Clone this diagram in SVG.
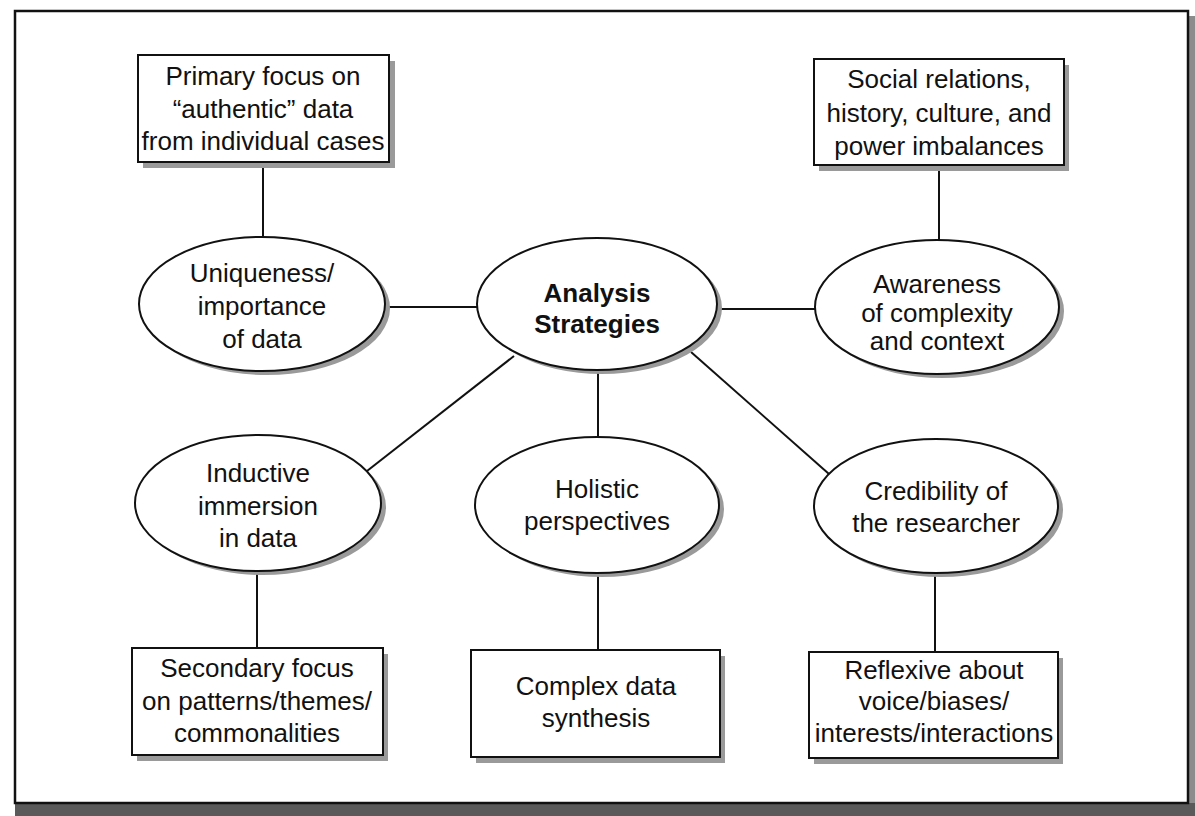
<svg xmlns="http://www.w3.org/2000/svg" width="1195" height="816" viewBox="0 0 1195 816">
  <style>
    .box { fill: #ffffff; stroke: #111111; stroke-width: 2; }
    .oval { fill: #ffffff; stroke: #111111; stroke-width: 2; }
    .shade { fill: #9a9a9a; stroke: none; }
    .link { stroke: #111111; stroke-width: 2; fill: none; }
    .label { font-family: "Liberation Sans", Arial, sans-serif; font-size: 26px; fill: #111111; text-anchor: middle; }
    .title { font-weight: bold; }
  </style>

  <rect x="0" y="0" width="1195" height="816" fill="#ffffff"/>

  <!-- page frame with drop shadow -->
  <g id="frame">
    <rect x="20" y="16" width="1175" height="800" fill="#8c8c8c"/>
    <rect x="15" y="803" width="1180" height="13" fill="#5a5a5a"/>
    <rect x="15" y="11" width="1173" height="792" fill="#ffffff" stroke="#111111" stroke-width="2.5"/>
  </g>

  <!-- connectors -->
  <g id="connectors">
    <line class="link" x1="263" y1="162" x2="263" y2="238"/>
    <line class="link" x1="939" y1="165" x2="939" y2="241"/>
    <line class="link" x1="384" y1="307" x2="478" y2="307"/>
    <line class="link" x1="716" y1="309" x2="816" y2="309"/>
    <line class="link" x1="514" y1="356" x2="367" y2="471"/>
    <line class="link" x1="598" y1="370" x2="598" y2="438"/>
    <line class="link" x1="691" y1="352" x2="829" y2="474"/>
    <line class="link" x1="257" y1="571" x2="257" y2="649"/>
    <line class="link" x1="598" y1="572" x2="598" y2="651"/>
    <line class="link" x1="935" y1="572" x2="935" y2="653"/>
  </g>

  <!-- outer boxes, top row -->
  <g id="box-primary">
    <rect class="shade" x="143" y="61" width="252" height="107"/>
    <rect class="box" x="138" y="55" width="251" height="107"/>
    <text class="label" x="263" y="85">Primary focus on</text>
    <text class="label" x="263" y="118">“authentic” data</text>
    <text class="label" x="263" y="150">from individual cases</text>
  </g>

  <g id="box-social">
    <rect class="shade" x="819" y="65" width="250" height="106"/>
    <rect class="box" x="814" y="59" width="250" height="106"/>
    <text class="label" x="939" y="88">Social relations,</text>
    <text class="label" x="939" y="122">history, culture, and</text>
    <text class="label" x="939" y="155">power imbalances</text>
  </g>

  <!-- ovals, middle row -->
  <g id="oval-uniqueness">
    <ellipse class="shade" cx="267" cy="308" rx="123" ry="67"/>
    <ellipse class="oval" cx="262" cy="304" rx="123" ry="67"/>
    <text class="label" x="262" y="282">Uniqueness/</text>
    <text class="label" x="262" y="315">importance</text>
    <text class="label" x="262" y="348">of data</text>
  </g>

  <g id="oval-analysis">
    <ellipse class="shade" cx="602" cy="308" rx="120" ry="66"/>
    <ellipse class="oval" cx="597" cy="304" rx="120" ry="66"/>
    <text class="label title" x="597" y="302">Analysis</text>
    <text class="label title" x="597" y="333">Strategies</text>
  </g>

  <g id="oval-awareness">
    <ellipse class="shade" cx="942" cy="311" rx="122" ry="67"/>
    <ellipse class="oval" cx="937" cy="307" rx="122" ry="67"/>
    <text class="label" x="937" y="293">Awareness</text>
    <text class="label" x="937" y="322">of complexity</text>
    <text class="label" x="937" y="350">and context</text>
  </g>

  <!-- ovals, lower row -->
  <g id="oval-inductive">
    <ellipse class="shade" cx="263" cy="507" rx="123" ry="68"/>
    <ellipse class="oval" cx="258" cy="503" rx="123" ry="68"/>
    <text class="label" x="258" y="482">Inductive</text>
    <text class="label" x="258" y="515">immersion</text>
    <text class="label" x="258" y="547">in data</text>
  </g>

  <g id="oval-holistic">
    <ellipse class="shade" cx="602" cy="509" rx="122" ry="68"/>
    <ellipse class="oval" cx="597" cy="505" rx="122" ry="68"/>
    <text class="label" x="597" y="498">Holistic</text>
    <text class="label" x="597" y="530">perspectives</text>
  </g>

  <g id="oval-credibility">
    <ellipse class="shade" cx="941" cy="510" rx="122" ry="67"/>
    <ellipse class="oval" cx="936" cy="506" rx="122" ry="67"/>
    <text class="label" x="936" y="500">Credibility of</text>
    <text class="label" x="936" y="532">the researcher</text>
  </g>

  <!-- outer boxes, bottom row -->
  <g id="box-secondary">
    <rect class="shade" x="137" y="654" width="251" height="107"/>
    <rect class="box" x="132" y="648" width="251" height="107"/>
    <text class="label" x="257" y="677">Secondary focus</text>
    <text class="label" x="257" y="710">on patterns/themes/</text>
    <text class="label" x="257" y="742">commonalities</text>
  </g>

  <g id="box-synthesis">
    <rect class="shade" x="476" y="656" width="249" height="107"/>
    <rect class="box" x="471" y="650" width="249" height="107"/>
    <text class="label" x="596" y="695">Complex data</text>
    <text class="label" x="596" y="727">synthesis</text>
  </g>

  <g id="box-reflexive">
    <rect class="shade" x="814" y="658" width="249" height="106"/>
    <rect class="box" x="809" y="652" width="249" height="106"/>
    <text class="label" x="934" y="679">Reflexive about</text>
    <text class="label" x="934" y="710">voice/biases/</text>
    <text class="label" x="934" y="742">interests/interactions</text>
  </g>
</svg>
